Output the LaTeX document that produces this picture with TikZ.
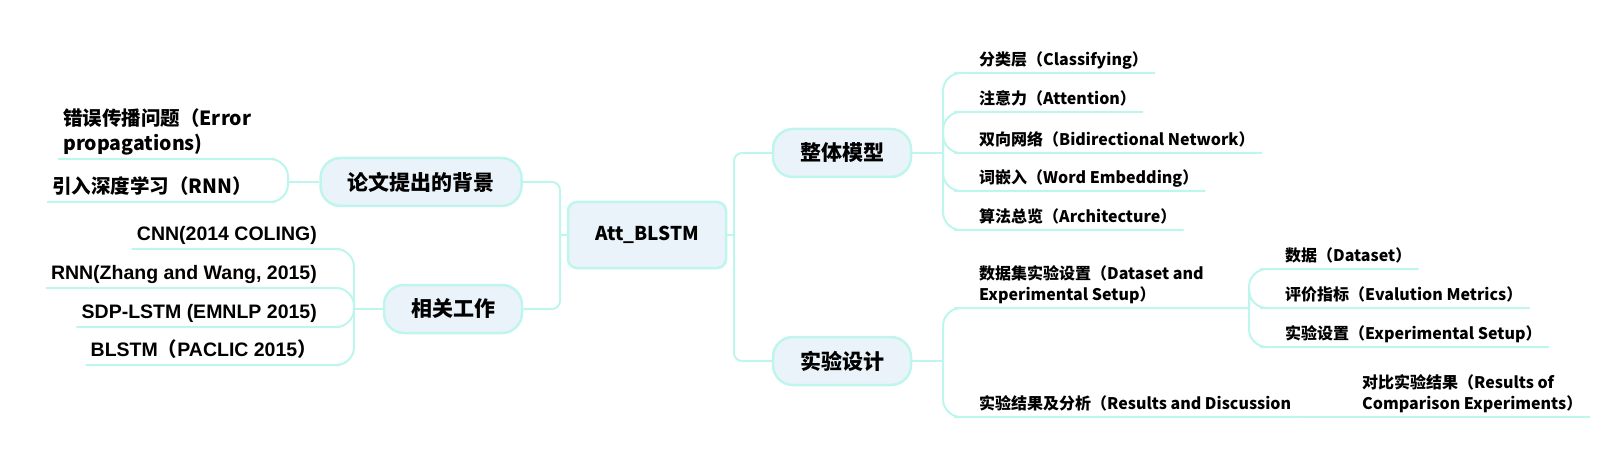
\documentclass[tikz,border=0pt]{standalone}
\usepackage{fontspec}
\setmainfont{Noto Sans CJK SC}
\newfontfamily\latin{Liberation Sans}
\definecolor{lineC}{RGB}{190,245,236}
\definecolor{boxC}{RGB}{235,243,250}

\begin{document}
\begin{tikzpicture}[x=1pt, y=-1pt,
    branch/.style={draw=lineC, line width=2pt, rounded corners=18pt},
    trunk/.style={draw=lineC, line width=2pt, rounded corners=8pt},
    topic/.style={draw=lineC, fill=boxC, line width=2.5pt, rounded corners=20pt, inner xsep=27pt, inner ysep=0pt, minimum height=48pt, font=\fontsize{21}{25}\selectfont\bfseries},
    rootbox/.style={topic, rounded corners=9pt, minimum width=158pt, minimum height=66pt, font=\fontsize{19}{23}\selectfont\bfseries},
    leafR/.style={anchor=south west, inner xsep=7pt, inner ysep=0pt, text depth=7pt, font=\fontsize{16}{21}\selectfont\bfseries},
    leafL/.style={anchor=south east, inner xsep=5pt, inner ysep=0pt, text depth=8pt, font=\fontsize{19.5}{25}\selectfont\bfseries}]
    \useasboundingbox (0,0) rectangle (1621,470);

    \node[rootbox] (root) at (647,235) {Att\_BLSTM};
    \node[topic] (bg) at (421,182) {论文提出的背景};
    \node[topic] (rel) at (453,309) {相关工作};
    \node[topic] (mod) at (842,153) {整体模型};
    \node[topic] (exp) at (842,361) {实验设计};

    \coordinate (jL) at (560,235);
    \coordinate (jR) at (734,235);
    \coordinate (jBg) at (288,182);
    \coordinate (jRel) at (354,309);
    \coordinate (jMod) at (943,153);
    \coordinate (jExp) at (943,361);
    \coordinate (jData) at (1249,308);

    \node[leafL, anchor=south west] (err) at (58,159) {\begin{tabular}[b]{@{}l@{}}错误传播问题（Error\\propagations)\end{tabular}};
    \node[leafL, anchor=south west] (dl) at (47,202) {引入深度学习（RNN）};
    \node[leafL] (cnn) at (322,249) {\latin CNN(2014 COLING)};
    \node[leafL] (rnn) at (322,288) {\latin RNN(Zhang and Wang, 2015)};
    \node[leafL] (sdp) at (322,327) {\latin SDP-LSTM (EMNLP 2015)};
    \node[leafL] (bl) at (322,365) {{\latin BLSTM}（{\latin PACLIC 2015}）};

    \node[leafR] (cls) at (972,73) {分类层（Classifying）};
    \node[leafR] (att) at (972,112) {注意力（Attention）};
    \node[leafR] (bid) at (972,153) {双向网络（Bidirectional Network）};
    \node[leafR] (wrd) at (972,191) {词嵌入（Word Embedding）};
    \node[leafR] (arc) at (972,230) {算法总览（Architecture）};

    \node[leafR] (set) at (972,308) {\begin{tabular}[b]{@{}l@{}}数据集实验设置（Dataset and\\Experimental Setup）\end{tabular}};
    \node[leafR] (res) at (972,417) {实验结果及分析（Results and Discussion};
    \node[leafR] (dat) at (1278,269) {数据（Dataset）};
    \node[leafR] (met) at (1278,308) {评价指标（Evalution Metrics）};
    \node[leafR] (ess) at (1278,347) {实验设置（Experimental Setup）};
    \node[leafR] (cmp) at (1355,417) {\begin{tabular}[b]{@{}l@{}}对比实验结果（Results of\\Comparison Experiments）\end{tabular}};

    \draw[trunk] (root.west) -- (jL);
    \draw[trunk] (jL) |- (bg.east);
    \draw[trunk] (jL) |- (rel.east);
    \draw[trunk] (root.east) -- (jR);
    \draw[trunk] (jR) |- (mod.west);
    \draw[trunk] (jR) |- (exp.west);

    \draw[branch] (bg.west) -- (jBg);
    \draw[branch] (jBg) |- (err.south east) -- (err.south west);
    \draw[branch] (jBg) |- (dl.south east) -- (dl.south west);

    \draw[branch] (rel.west) -- (jRel);
    \draw[branch] (jRel) |- (cnn.south east) -- (cnn.south west);
    \draw[branch] (jRel) |- (rnn.south east) -- (rnn.south west);
    \draw[branch] (jRel) |- (sdp.south east) -- (sdp.south west);
    \draw[branch] (jRel) |- (bl.south east) -- (bl.south west);

    \draw[branch] (mod.east) -- (jMod);
    \draw[branch] (jMod) |- (cls.south west) -- (cls.south east);
    \draw[branch] (jMod) |- (att.south west) -- (att.south east);
    \draw[branch] (jMod) |- (bid.south west) -- (bid.south east);
    \draw[branch] (jMod) |- (wrd.south west) -- (wrd.south east);
    \draw[branch] (jMod) |- (arc.south west) -- (arc.south east);

    \draw[branch] (exp.east) -- (jExp);
    \draw[branch] (jExp) |- (set.south west) -- (jData);
    \draw[branch] (jExp) |- (res.south west) -- (res.south east);
    \draw[branch] (jData) |- (dat.south west) -- (dat.south east);
    \draw[branch] (jData) |- (met.south west) -- (met.south east);
    \draw[branch] (jData) |- (ess.south west) -- (ess.south east);
    \draw[branch] (res.south east) -- (cmp.south west) -- (cmp.south east);
\end{tikzpicture}
\end{document}
